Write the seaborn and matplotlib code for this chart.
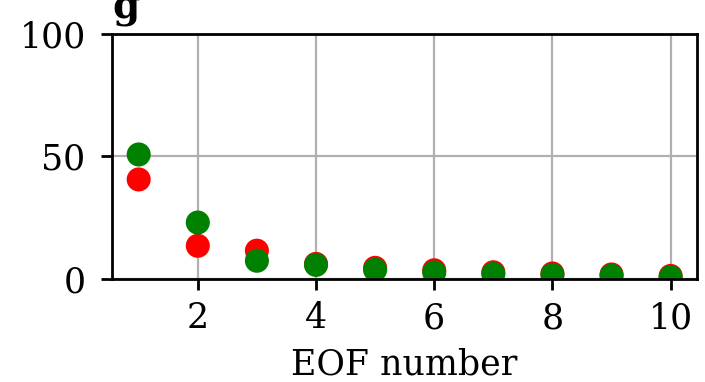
import numpy as np
import pandas as pd
import matplotlib
matplotlib.use("Agg")
import matplotlib.pyplot as plt
import seaborn as sns

eof_number = [1, 2, 3, 4, 5, 6, 7, 8, 9, 10]
variance_red = [40.6, 13.5, 11.5, 6.1, 4.5, 3.5, 2.7, 2.2, 1.8, 1.2]
variance_green = [50.8, 23.0, 7.4, 5.7, 3.7, 2.6, 2.0, 1.6, 1.3, 0.7]

df = pd.concat([
    pd.DataFrame({"eof": eof_number, "var": variance_red, "set": "red"}),
    pd.DataFrame({"eof": eof_number, "var": variance_green, "set": "green"}),
])

sns.set_style("ticks")
plt.rcParams["font.family"] = ["DejaVu Serif"]
plt.rcParams["font.size"] = 25
for key in ["text.color", "axes.labelcolor", "xtick.color", "ytick.color"]:
    plt.rcParams[key] = "black"

fig = plt.figure(figsize=(7.05, 3.82), dpi=100)
ax = fig.add_axes([0.159, 0.27, 0.83, 0.641])

sns.scatterplot(data=df, x="eof", y="var", hue="set",
                palette={"red": "#ff0000", "green": "#008000"},
                s=300, edgecolor="none", linewidth=0, legend=False, ax=ax)

ax.set_ylim(0, 100)
ax.set_yticks([0, 50, 100])
ax.set_xticks([2, 4, 6, 8, 10])
ax.grid(True, color="#b0b0b0", linewidth=1.6)
ax.set_axisbelow(True)
for sp in ax.spines.values():
    sp.set_linewidth(2)
    sp.set_color("black")
ax.tick_params(axis="both", width=2, length=8, labelsize=25, color="black")
ax.tick_params(axis="x", pad=8)
ax.tick_params(axis="y", pad=11)
ax.set_xlabel("EOF number", fontsize=25, labelpad=9)
ax.set_ylabel("")
ax.set_title("g", loc="left", fontweight="bold", fontsize=28, pad=11)

fig.savefig("out.png", dpi=100)
